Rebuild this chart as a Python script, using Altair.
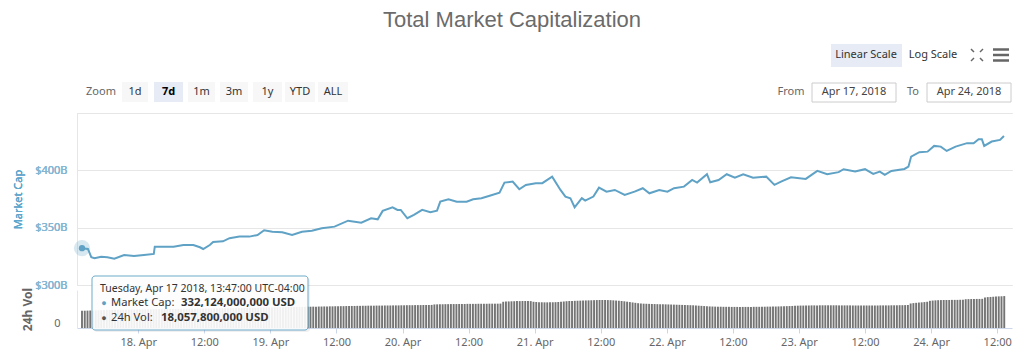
import altair as alt
import pandas as pd

TITLE = "Total Market Capitalization"
START = "2018-04-17 13:47"

# Market cap readings: hours after START, value in billions USD
mcap_hours = [0, 1.08, 1.69, 2.28, 3.48, 4.61, 5.87, 7.66, 9.45, 11.25,
              13.04, 13.22, 14.84, 16.63, 18.42, 20.22, 21.42, 22.01, 23.21, 23.81,
              25.60, 26.80, 28.60, 30.39, 31.88, 33.08, 34.57, 36.37, 38.16, 39.95,
              41.75, 43.54, 45.87, 48.33, 50.72, 52.51, 53.71, 54.61, 56.40, 57.30,
              57.89, 59.09, 60.28, 61.78, 63.27, 64.48, 65.07, 66.56, 68.06, 69.86,
              71.04, 72.55, 74.04, 75.83, 76.73, 78.22, 79.42, 80.62, 82.42, 83.60,
              85.39, 86.90, 87.80, 88.70, 89.47, 90.78, 91.39, 92.88, 93.90, 95.26,
              96.77, 98.56, 100.36, 101.85, 103.05, 104.84, 106.33, 107.53, 109.33, 110.82,
              111.71, 113.51, 114.10, 115.61, 117.10, 118.58, 120.09, 121.88, 124.27, 125.76,
              126.96, 128.76, 131.45, 133.55, 135.34, 137.42, 138.32, 140.42, 142.21, 143.70,
              144.90, 145.80, 147.00, 149.38, 150.10, 150.59, 152.08, 153.57, 154.77, 155.97,
              157.05, 158.66, 160.74, 161.94, 162.84, 163.43, 163.86, 165.22, 166.73, 167.45]
mcap_values = [332.124, 331.4, 324.2, 323.3, 324.7, 324.2, 323.0, 326.2, 325.3, 326.2,
               327.1, 333.4, 333.4, 333.4, 334.9, 334.9, 332.9, 331.4, 334.9, 337.5,
               338.1, 340.8, 342.2, 342.2, 343.6, 347.7, 346.5, 346.0, 343.6, 346.5,
               347.4, 349.5, 350.9, 356.1, 354.4, 358.2, 357.3, 364.6, 367.8, 365.5,
               365.5, 358.2, 361.1, 365.5, 363.4, 364.8, 372.7, 374.8, 372.7, 372.7,
               374.8, 375.7, 377.9, 380.5, 389.3, 390.2, 383.5, 387.3, 388.8, 388.8,
               394.5, 382.9, 377.1, 375.7, 367.8, 375.7, 373.6, 377.1, 384.9, 381.4,
               382.9, 378.5, 381.4, 384.4, 380.0, 382.9, 381.4, 384.4, 385.8, 391.6,
               389.3, 396.6, 389.6, 391.6, 396.6, 393.6, 396.6, 393.6, 394.5, 387.3,
               390.2, 394.0, 392.5, 399.5, 396.6, 398.4, 401.0, 398.9, 401.0, 396.9,
               398.9, 396.0, 399.5, 401.2, 403.2, 412.0, 415.8, 416.3, 421.3, 420.7,
               416.9, 420.7, 423.7, 423.7, 427.2, 427.2, 421.3, 425.1, 426.5, 430.0]

# 24h volume, half-hourly from START, billions USD
vol_values = [18.0578, 18.2, 18.3, 18.4, 18.5, 18.6, 18.7, 18.8, 18.9, 19.0,
              19.0, 19.1, 19.1, 19.2, 19.2, 19.3, 19.3, 19.3, 19.4, 19.4,
              19.5, 19.5, 19.6, 19.6, 19.7, 19.7, 19.8, 19.8, 19.9, 19.9,
              20.0, 20.0, 20.1, 20.1, 20.1, 20.2, 20.2, 20.2, 20.3, 20.3,
              20.3, 20.4, 20.4, 20.4,
              20.5, 20.5, 20.6, 20.6, 20.7, 20.7, 20.8, 20.8, 20.9, 20.9,
              21.0, 21.0, 21.1, 21.1, 21.2, 21.2, 21.3, 21.3, 21.4, 21.4,
              21.5, 21.5, 21.6, 21.6, 21.7, 21.7, 21.8, 21.8, 21.9, 21.9,
              22.0, 22.0, 22.1, 22.1, 22.2, 22.2,
              22.3, 22.3, 22.4, 22.4, 22.5, 22.5, 22.6, 22.6, 22.7, 22.7,
              22.8, 22.8, 22.9, 22.9, 23.0, 23.0, 23.1, 23.1, 23.2, 23.2,
              23.3, 23.3, 23.4, 23.4, 23.5, 23.5, 23.5, 23.6, 23.6, 23.6,
              23.7, 23.7, 23.7, 23.8, 23.8, 23.8,
              23.9, 23.9, 24.0, 24.0, 24.0, 24.1, 24.1, 24.1, 24.2, 24.2, 24.2, 24.3,
              24.8, 24.9, 25.0, 25.0, 25.1, 25.1, 25.2, 25.2, 25.2, 25.3,
              25.3, 25.3, 25.4, 25.4, 25.4, 25.4, 25.5, 25.5, 25.5, 25.5,
              25.6, 25.6, 25.6, 25.6, 25.7,
              27.6, 27.8, 28.0, 28.1, 28.2, 28.3, 28.3, 28.4, 28.4, 28.4, 28.3,
              27.6, 27.4, 27.2, 27.1, 27.0, 27.0, 27.0, 27.1, 27.2, 27.4, 27.6, 27.9,
              28.2, 28.4, 28.5, 28.6, 28.7, 28.8, 28.9, 29.0, 29.1, 29.2,
              29.3, 29.4, 29.5, 29.5, 29.5, 29.4, 29.3, 29.1, 28.9, 28.7,
              28.4, 28.1, 27.7, 27.3, 26.9, 26.5,
              26.1, 25.8, 25.6, 25.5, 25.4, 25.3, 25.2, 25.1, 25.0, 25.0, 24.9, 24.8, 24.7, 24.6,
              24.5, 24.4, 24.3, 24.2, 24.1, 24.0, 23.9, 23.7, 23.5, 23.3, 23.1, 22.9, 22.7, 22.6,
              22.5, 22.4, 22.4, 22.3, 22.3, 22.3, 22.2, 22.2, 22.2, 22.2,
              22.2, 22.2, 22.2, 22.2, 22.3, 22.3, 22.3, 22.4, 22.4, 22.5,
              22.5, 22.6, 22.6, 22.7, 22.8, 22.9, 23.0, 23.1, 23.2,
              23.4, 23.5, 23.6, 23.6, 23.7, 23.7, 23.8, 23.8, 23.8,
              23.9, 23.9, 23.9, 23.9, 23.9, 23.9, 23.9, 23.8, 23.8, 23.8,
              23.8, 23.8, 23.7, 23.7, 23.7, 23.7, 23.7, 23.7, 23.7, 23.7,
              23.7, 23.7, 23.8, 23.8, 23.8, 23.8, 23.9, 23.9, 23.9, 24.0,
              24.0, 24.1, 24.2,
              25.8, 26.2, 26.5, 26.8, 27.0, 27.3, 27.6,
              28.6, 28.9, 29.1, 29.3, 29.4, 29.5, 29.5, 29.5, 29.6, 29.6, 29.6, 29.7, 29.7,
              30.3, 30.4, 30.5, 30.5, 30.6, 30.6, 30.7,
              32.2, 32.5, 32.7, 32.9, 33.1, 33.3, 33.4, 33.6]

zoom_buttons = ["1d", "7d", "1m", "3m", "1y", "YTD", "ALL"]
selected_zoom = "7d"
date_from = "Apr 17, 2018"
date_to = "Apr 24, 2018"
tooltip_header = "Tuesday, Apr 17 2018, 13:47:00 UTC-04:00"

# ---------------------------------------------------------------- styling
LINE = "#5fa2c5"
FONT = "Noto Sans"
W = 935
H = 215                   # whole plot (market cap + volume)
MC_BOTTOM = 172           # market-cap area spans 0..172
VOL_TOP = 177             # volume area spans 177..215
PL, PT = 77, 113          # page position of the plot origin

start = pd.Timestamp(START)
mcap_df = pd.DataFrame({"time": start + pd.to_timedelta(mcap_hours, unit="h"),
                        "cap": mcap_values})
vol_df = pd.DataFrame({"time": pd.date_range(start, periods=len(vol_values), freq="30min"),
                       "vol": vol_values})

xscale = alt.Scale(domain=[alt.DateTime(year=2018, month=4, date=17, hours=13, minutes=47),
                           alt.DateTime(year=2018, month=4, date=24, hours=13, minutes=47)])
xaxis = alt.Axis(tickCount=14,
                 labelExpr="hours(datum.value) == 0 ? timeFormat(datum.value, '%d. %b') : timeFormat(datum.value, '%H:%M')",
                 labelOverlap=False, labelColor="#666666", labelFont=FONT,
                 labelFontSize=11, labelPadding=3, tickSize=5,
                 tickColor="#ccd6eb", domainColor="#ccd6eb", grid=False, title=None)
X = alt.X("time:T", scale=xscale, axis=xaxis)

one = pd.DataFrame({"k": [0]})


def txt(s, px, py, size=11, color="#666666", weight="normal", align="center", font=FONT):
    return alt.Chart(one).mark_text(text=s, fontSize=size, color=color, fontWeight=weight,
                                    align=align, baseline="middle", font=font).encode(
        x=alt.value(px - PL), y=alt.value(py - PT))


def box(x1, x2, y1, y2, fill="#f7f7f7", stroke=None, **kw):
    props = dict(fill=fill)
    if stroke is not None:
        props.update(stroke=stroke, strokeWidth=1)
    props.update(kw)
    return alt.Chart(one).mark_rect(**props).encode(
        x=alt.value(x1 - PL), x2=alt.value(x2 - PL),
        y=alt.value(y1 - PT), y2=alt.value(y2 - PT))


def seg(x1, y1, x2, y2, color="#666666", width=1.5):
    return alt.Chart(one).mark_rule(color=color, strokeWidth=width).encode(
        x=alt.value(x1 - PL), x2=alt.value(x2 - PL),
        y=alt.value(y1 - PT), y2=alt.value(y2 - PT))


# ---------------------------------------------------------------- market cap
y_mc = alt.Y("cap:Q",
             scale=alt.Scale(domain=[300, 450], nice=False, zero=False, range=[MC_BOTTOM, 0]),
             axis=alt.Axis(orient="left", values=[300, 350, 400, 450],
                           labelExpr="datum.value >= 450 ? '' : '$' + datum.value + 'B'",
                           title="Market Cap", titleColor="#5fa6cc", titleFont=FONT,
                           titleFontSize=11, titleFontWeight="normal", titlePadding=10.5,
                           labelColor="#86b6d2", labelFont=FONT, labelFontSize=11,
                           labelPadding=10, ticks=False, grid=True, gridColor="#e6e6e6",
                           domain=True, domainColor="#e6e6e6",
                           minExtent=43, maxExtent=43))

line = alt.Chart(mcap_df).mark_line(color=LINE, strokeWidth=2).encode(x=X, y=y_mc)
first = mcap_df.head(1)
halo = alt.Chart(first).mark_circle(color=LINE, opacity=0.25, size=260).encode(x=X, y=y_mc)
dot = alt.Chart(first).mark_circle(color=LINE, opacity=1, size=40).encode(x=X, y=y_mc)

# ---------------------------------------------------------------- volume
y_vol = alt.Y("vol:Q", scale=alt.Scale(domain=[0, 40], nice=False, range=[H, VOL_TOP]),
              axis=alt.Axis(orient="left", values=[0], title="24h Vol", titleColor="#666666",
                            titleFont=FONT, titleFontSize=12, titleFontWeight="bold",
                            titlePadding=0, labelColor="#666666", labelFont=FONT,
                            labelFontSize=11, labelPadding=17, labelBaseline="bottom",
                            ticks=False, grid=False,
                            domain=True, domainColor="#e6e6e6",
                            minExtent=43, maxExtent=43))
bars = alt.Chart(vol_df).mark_bar(color="#747474", width=1.9).encode(x=X, y=y_vol)

# ---------------------------------------------------------------- page furniture
ui = [txt(TITLE, 512, 20, size=22, color="#6b6b6b", font="Liberation Sans")]
ui.append(txt("Zoom", 101, 92))
btn_left = [122, 154, 188, 220, 253, 285, 318]
btn_right = [148, 183, 215, 248, 282, 315, 348]
for lab, a, b in zip(zoom_buttons, btn_left, btn_right):
    sel = lab == selected_zoom
    ui.append(box(a, b, 82, 102, fill="#e6ebf5" if sel else "#f7f7f7"))
    ui.append(txt(lab, (a + b) / 2, 92, color="#000000" if sel else "#333333",
                  weight="bold" if sel else "normal"))
ui.append(box(831, 902, 44, 67, fill="#e6ebf5"))
ui.append(txt("Linear Scale", 866, 55, color="#333333"))
ui.append(txt("Log Scale", 933, 55, color="#333333"))
ui += [seg(971, 49, 974, 52), seg(983, 49, 980, 52), seg(971, 61, 974, 58), seg(983, 61, 980, 58)]
ui += [seg(993, 49.5, 1009, 49.5, width=2.5), seg(993, 55, 1009, 55, width=2.5),
       seg(993, 60.5, 1009, 60.5, width=2.5)]
ui.append(txt("From", 791, 92))
ui.append(box(812, 896, 83, 102, fill="#ffffff", stroke="#cccccc"))
ui.append(txt(date_from, 854, 92, color="#444444"))
ui.append(txt("To", 913, 92))
ui.append(box(927, 1011, 83, 102, fill="#ffffff", stroke="#cccccc"))
ui.append(txt(date_to, 969, 92, color="#444444"))

cap0 = f"{mcap_values[0] * 1e9:,.0f} USD"
vol0 = f"{vol_values[0] * 1e9:,.0f} USD"
R1, R2 = 302.5, 317.5
tip = [
    box(94, 310, 278, 332, fill="#000000", opacity=0.06, cornerRadius=3),
    box(92, 308, 276, 330, fill="#ffffff", stroke=LINE, opacity=0.9, cornerRadius=3),
    txt(tooltip_header, 100, 289, size=10.5, color="#333333", align="left"),
    txt("●", 104, R1, size=9, color=LINE),
    txt("Market Cap:", 111, R1, size=11.2, color="#333333", align="left"),
    txt(cap0, 181, R1, size=11.4, color="#333333", weight="bold", align="left"),
    txt("●", 104, R2, size=9, color="#555555"),
    txt("24h Vol:", 111, R2, size=11.2, color="#333333", align="left"),
    txt(vol0, 161, R2, size=11.4, color="#333333", weight="bold", align="left"),
]

chart = alt.layer(line, bars, halo, dot, *ui, *tip).resolve_scale(y="independent").properties(
    width=W, height=H,
    autosize=alt.AutoSizeParams(type="none"),
    padding={"left": PL - 8, "top": PT - 8, "right": 4, "bottom": 30},
).configure_view(stroke=None)

chart.save("out.html", embed_options={"renderer": "svg", "actions": False})
